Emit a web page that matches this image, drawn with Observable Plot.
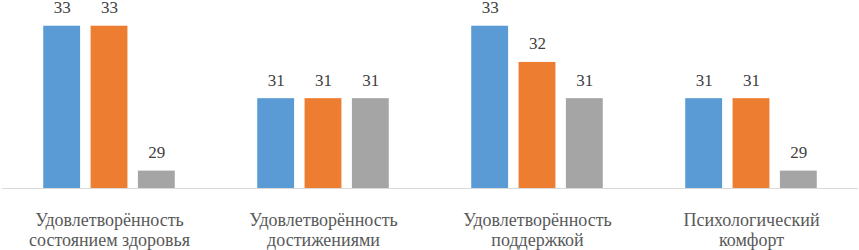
<!DOCTYPE html>
<html>
<head>
<meta charset="utf-8">
<script src="https://cdn.jsdelivr.net/npm/d3@7"></script>
<script src="https://cdn.jsdelivr.net/npm/@observablehq/plot@0.6"></script>
<style>
  html, body { margin: 0; padding: 0; background: #fff; font-family: "Liberation Serif"; }
  #chart svg { display: block; }
</style>
</head>
<body>
<div id="chart"></div>
<div id="note"></div>
<script>
const categories = [
  "Удовлетворённость\nсостоянием здоровья",
  "Удовлетворённость\nдостижениями",
  "Удовлетворённость\nподдержкой",
  "Психологический\nкомфорт"
];
const seriesNames = ["Ряд 1", "Ряд 2", "Ряд 3"];
const series1 = [33, 31, 33, 31];
const series2 = [33, 31, 32, 31];
const series3 = [29, 31, 31, 29];
const seriesColors = ["#5B9BD5", "#ED7D31", "#A5A5A5"];

const allSeries = [series1, series2, series3];
const data = [];
categories.forEach((c, i) => {
  allSeries.forEach((s, j) => {
    data.push({category: c, series: seriesNames[j], value: s[i]});
  });
});

const yMin = 28.52;
const serif = "Liberation Serif";

const chart = Plot.plot({
  width: 859,
  height: 250,
  marginLeft: 0,
  marginRight: 0,
  marginTop: 0,
  marginBottom: 62,
  fx: {domain: categories, padding: 0, label: null, axis: null},
  x: {domain: seriesNames, paddingInner: 0.221, paddingOuter: 0.871, round: false, axis: null},
  y: {domain: [yMin, 33.71], axis: null},
  color: {domain: seriesNames, range: seriesColors},
  marks: [
    Plot.barY(data, {fx: "category", x: "series", y1: yMin, y2: "value", fill: "series"}),
    Plot.ruleY([yMin], {stroke: "#d9d9d9", strokeWidth: 1}),
    Plot.text(data, {fx: "category", x: "series", y: "value", text: d => String(d.value),
      lineAnchor: "bottom", dy: -13, fontSize: 17, fontFamily: serif, fill: "#404040"}),
    Plot.axisFx({anchor: "bottom", tickSize: 0, tickPadding: 23, label: null,
      fontSize: 18, fontFamily: serif, lineHeight: 1.11, color: "#595959"})
  ]
});
d3.select(chart).selectAll("text").style("font-family", serif);
document.getElementById("chart").appendChild(chart);
void getComputedStyle(chart.querySelector("text")).fontFamily;
</script>
</body>
</html>
